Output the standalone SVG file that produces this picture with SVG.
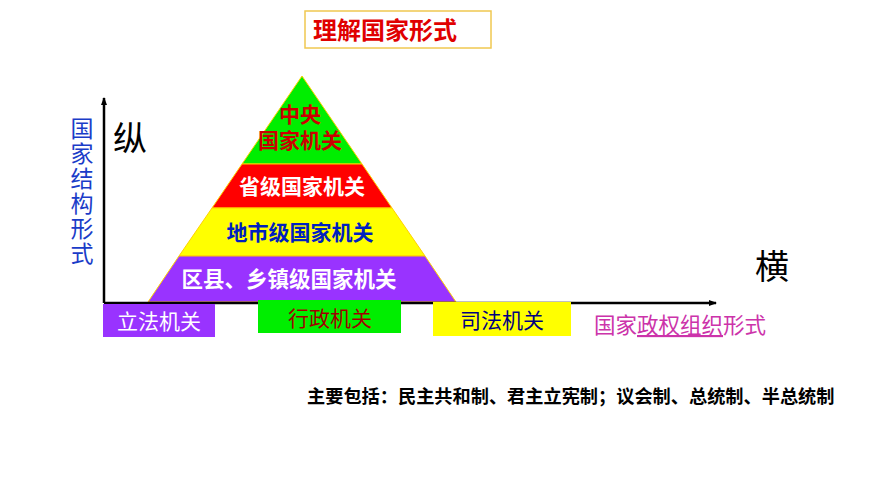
<svg xmlns="http://www.w3.org/2000/svg" width="870" height="489" viewBox="0 0 870 489">
<defs>
<style>
text{font-family:"Liberation Sans","Noto Sans CJK SC",sans-serif}
.b{font-weight:bold}
</style>
<marker id="ar" markerWidth="8" markerHeight="8" refX="7" refY="4" orient="auto" markerUnits="userSpaceOnUse"><path d="M0,1 L8,4 L0,7 Z" fill="#000"/></marker>
</defs>
<rect width="870" height="489" fill="#fff"/>
<g id="title"><rect x="305" y="11" width="186" height="37" fill="#fff" stroke="#f0c850" stroke-width="1.5"/><text x="313" y="39" font-size="24" fill="#e00000" class="b">理解国家形式</text></g>
<g id="pyramid">
<polygon points="302,76 242,164 362,164" fill="#00ee00" stroke="#ffd000"/>
<polygon points="242,164 362,164 392,208 212,208" fill="#ff0000" stroke="#ffd000"/>
<polygon points="212,208 392,208 425,256 179,256" fill="#ffff00" stroke="#ffd000"/>
<polygon points="179,256 425,256 456,302 148,302" fill="#9933ff" stroke="#ffd000"/>
<text x="300" y="122" font-size="21" fill="#cc0000" class="b" text-anchor="middle">中央</text>
<text x="300" y="148" font-size="21" fill="#cc0000" class="b" text-anchor="middle">国家机关</text>
<text x="302" y="194" font-size="21" fill="#fff" class="b" text-anchor="middle">省级国家机关</text>
<text x="300" y="240" font-size="21" fill="#0020c0" class="b" text-anchor="middle">地市级国家机关</text>
<text x="289" y="287" font-size="21.5" fill="#fff" class="b" text-anchor="middle">区县、乡镇级国家机关</text>
</g>
<g id="connectors" stroke="#000" stroke-width="2.5">
<line x1="104" y1="303" x2="104" y2="98" marker-end="url(#ar)"/>
<line x1="104" y1="303" x2="716" y2="303" marker-end="url(#ar)"/>
</g>
<g id="lifa"><rect x="103" y="304" width="112" height="33" fill="#9933ff"/><text x="159" y="329" font-size="21" fill="#fff" text-anchor="middle">立法机关</text></g>
<g id="xingzheng"><rect x="258" y="300" width="143" height="33" fill="#00ee00"/><text x="330" y="326" font-size="21" fill="#a00000" text-anchor="middle">行政机关</text></g>
<g id="sifa"><rect x="433" y="302" width="138" height="34" fill="#ffff00"/><text x="502" y="328" font-size="21" fill="#000080" text-anchor="middle">司法机关</text></g>
<g id="labels">
<text x="113" y="151" font-size="34" fill="#000">纵</text>
<text x="755" y="279" font-size="34" fill="#000">横</text>
<g font-size="23" fill="#1a3cc8" text-anchor="middle">
<text x="82" y="137">国</text><text x="82" y="162">家</text><text x="82" y="187">结</text><text x="82" y="212">构</text><text x="82" y="237">形</text><text x="82" y="262">式</text>
</g>
<text x="594" y="333" font-size="21.5" fill="#cc33aa">国家<tspan text-decoration="underline">政权组织</tspan>形式</text>
<text x="307" y="403" font-size="18.2" fill="#000" class="b">主要包括：民主共和制、君主立宪制；议会制、总统制、半总统制</text>
</g>
</svg>
